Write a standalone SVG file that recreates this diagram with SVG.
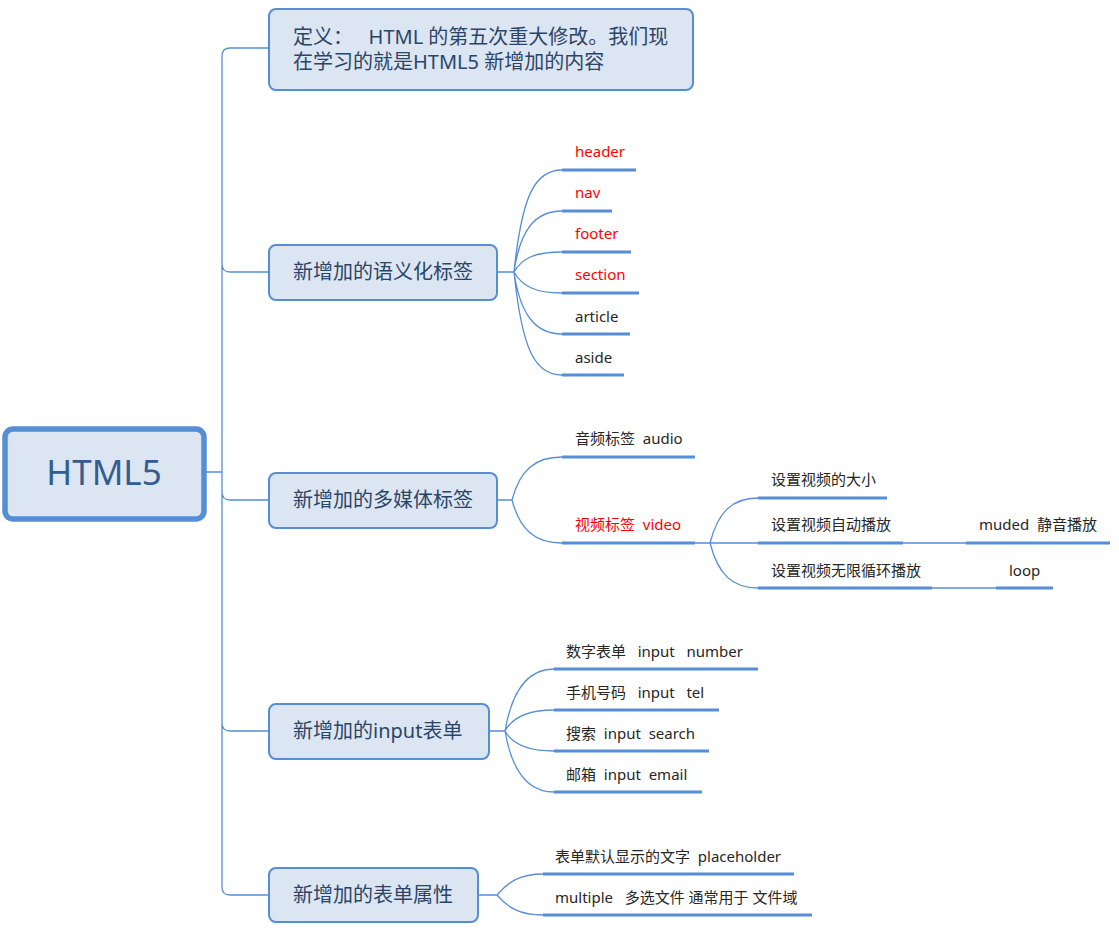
<svg xmlns="http://www.w3.org/2000/svg" width="1119" height="939" viewBox="0 0 1119 939">
<style>
text{font-family:"Noto Sans","Noto Sans CJK SC",sans-serif;white-space:pre}
.box{fill:#dce6f2;stroke:#558ed5;stroke-width:2}
.bt{font-size:20px;fill:#2b4568}
.dt{font-size:20px;fill:#2b4568}
.lt{font-size:15px;fill:#262626}
.red{fill:#ff0000}
.c{fill:none;stroke:#558ed5;stroke-width:1.3}
.u{stroke:#558ed5;stroke-width:3}
</style>
<rect width="1119" height="939" fill="#fff"/>
<g id="connectors">
<path class="c" d="M206,472 H222 M269,48 H230 Q222,48 222,56 V887 Q222,895 230,895 H269 M222,264 Q222,272 230,272 H269 M222,492 Q222,500 230,500 H269 M222,723 Q222,731 230,731 H269"/>
<path class="c" d="M497,272 H514 M514,272 C522,195 535,170 562,170 M514,272 C520,230 535,211 562,211 M514,272 C522,258 535,252 562,252 M514,272 C522,286 535,293 562,293 M514,272 C520,314 535,334 562,334 M514,272 C522,350 535,375 562,375"/>
<path class="c" d="M497,500 H512 M512,500 C520,470 535,457 562,457 M512,500 C520,530 535,543 562,543"/>
<path class="c" d="M695,543 H710 M710,543 C718,512 732,498 758,498 M710,543 H758 M710,543 C718,574 732,588 758,588 M903,543 H966 M932,588 H996"/>
<path class="c" d="M489,731 H505 M505,731 C512,690 528,669 554,669 M505,731 C512,718 528,710 554,710 M505,731 C512,744 528,751 554,751 M505,731 C512,772 528,792 554,792"/>
<path class="c" d="M478,895 H497 M497,895 C508,882 520,874 543,874 M497,895 C508,908 520,915 543,915"/>
</g>
<g id="root"><rect x="5" y="429" width="199" height="90" rx="8" fill="#dce6f2" stroke="#558ed5" stroke-width="5.5"/><text x="104" y="485" font-size="35" text-anchor="middle" fill="#345d8f">HTML5</text></g>
<g id="def"><rect class="box" x="269" y="9" width="424" height="81" rx="7"/><text class="dt" x="293" y="44">定义：   HTML 的第五次重大修改。我们现</text><text class="dt" x="293" y="69">在学习的就是HTML5 新增加的内容</text></g>
<g id="semantic"><rect class="box" x="269" y="245" width="228" height="55" rx="7"/><text class="bt" x="293" y="279">新增加的语义化标签</text></g>
<g id="media"><rect class="box" x="269" y="473" width="228" height="55" rx="7"/><text class="bt" x="293" y="507">新增加的多媒体标签</text></g>
<g id="input"><rect class="box" x="269" y="704" width="220" height="55" rx="7"/><text class="bt" x="293" y="738">新增加的input表单</text></g>
<g id="formattr"><rect class="box" x="269" y="868" width="209" height="54" rx="7"/><text class="bt" x="293" y="902">新增加的表单属性</text></g>
<g id="header"><line class="u" x1="562" y1="170" x2="636" y2="170"/><text class="lt red" x="575" y="157">header</text></g>
<g id="nav"><line class="u" x1="562" y1="211" x2="612" y2="211"/><text class="lt red" x="575" y="198">nav</text></g>
<g id="footer"><line class="u" x1="562" y1="252" x2="631" y2="252"/><text class="lt red" x="575" y="239">footer</text></g>
<g id="section"><line class="u" x1="562" y1="293" x2="639" y2="293"/><text class="lt red" x="575" y="280">section</text></g>
<g id="article"><line class="u" x1="562" y1="334" x2="630" y2="334"/><text class="lt" x="575" y="322">article</text></g>
<g id="aside"><line class="u" x1="562" y1="375" x2="624" y2="375"/><text class="lt" x="575" y="363">aside</text></g>
<g id="audio"><line class="u" x1="562" y1="457" x2="695" y2="457"/><text class="lt" x="575" y="444">音频标签  audio</text></g>
<g id="video"><line class="u" x1="562" y1="543" x2="695" y2="543"/><text class="lt red" x="575" y="530">视频标签  video</text></g>
<g id="vsize"><line class="u" x1="758" y1="498" x2="887" y2="498"/><text class="lt" x="771" y="485">设置视频的大小</text></g>
<g id="vauto"><line class="u" x1="758" y1="543" x2="903" y2="543"/><text class="lt" x="771" y="530">设置视频自动播放</text></g>
<g id="vloop"><line class="u" x1="758" y1="588" x2="932" y2="588"/><text class="lt" x="771" y="576">设置视频无限循环播放</text></g>
<g id="muded"><line class="u" x1="966" y1="543" x2="1110" y2="543"/><text class="lt" x="979" y="530">muded  静音播放</text></g>
<g id="loop"><line class="u" x1="996" y1="588" x2="1053" y2="588"/><text class="lt" x="1009" y="576">loop</text></g>
<g id="number"><line class="u" x1="554" y1="669" x2="758" y2="669"/><text class="lt" x="566" y="657">数字表单   input   number</text></g>
<g id="tel"><line class="u" x1="554" y1="710" x2="719" y2="710"/><text class="lt" x="566" y="698">手机号码   input   tel</text></g>
<g id="search"><line class="u" x1="554" y1="751" x2="709" y2="751"/><text class="lt" x="566" y="739">搜索  input  search</text></g>
<g id="email"><line class="u" x1="554" y1="792" x2="702" y2="792"/><text class="lt" x="566" y="780">邮箱  input  email</text></g>
<g id="placeholder"><line class="u" x1="543" y1="874" x2="794" y2="874"/><text class="lt" x="555" y="862">表单默认显示的文字  placeholder</text></g>
<g id="multiple"><line class="u" x1="543" y1="915" x2="812" y2="915"/><text class="lt" x="555" y="903">multiple   多选文件 通常用于 文件域</text></g>
</svg>
